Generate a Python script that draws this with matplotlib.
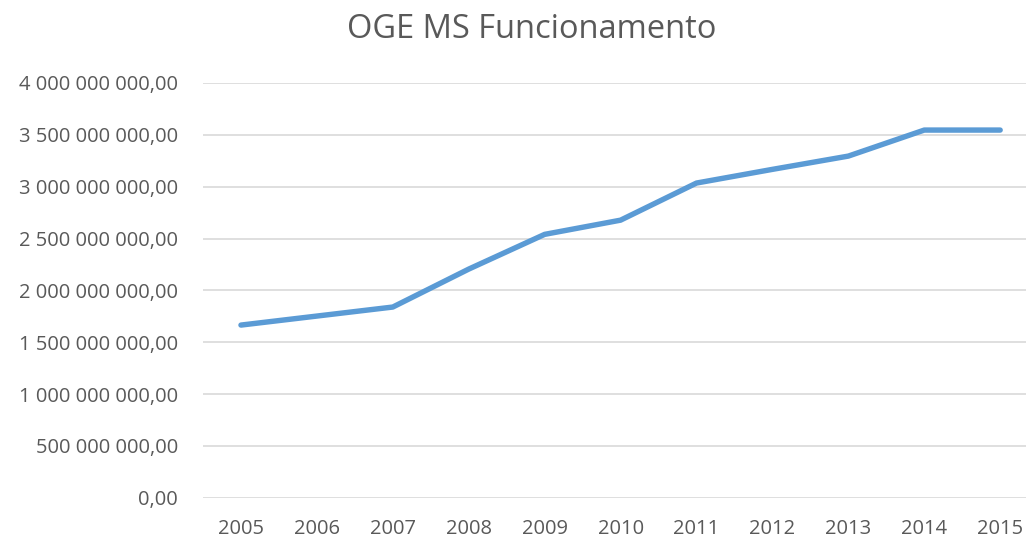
import matplotlib.pyplot as plt
from matplotlib.ticker import FuncFormatter

# OGE MS funcionamento por ano
anos = ["2005", "2006", "2007", "2008", "2009", "2010",
        "2011", "2012", "2013", "2014", "2015"]
valores = [1.665e9, 1.752e9, 1.839e9, 2.205e9, 2.540e9, 2.677e9,
           3.035e9, 3.167e9, 3.295e9, 3.546e9, 3.546e9]

cinza = "#595959"
plt.rcParams["font.family"] = ["Open Sans", "DejaVu Sans"]

fig = plt.figure(figsize=(10.26, 5.39), dpi=100)
ax = fig.add_axes([203 / 1026, 1 - 497.7 / 539, 823 / 1026, (497.7 - 83) / 539])

x = list(range(len(anos)))
ax.plot(x, valores, color="#5B9BD5", linewidth=3.9, solid_capstyle="round",
        solid_joinstyle="round")

def fmt(v, pos):
    s = "{:,.2f}".format(v).replace(",", " ").replace(".", ",")
    return s

ax.set_ylim(0, 4e9)
ax.set_yticks([i * 5e8 for i in range(9)])
ax.yaxis.set_major_formatter(FuncFormatter(fmt))
ax.set_xlim(-0.5, 10.34)
ax.set_xticks(x)
ax.set_xticklabels(anos)

ax.grid(axis="y", color="#d9d9d9", linewidth=1.2)
ax.set_axisbelow(True)
for s in ax.spines.values():
    s.set_visible(False)
ax.tick_params(length=0, labelsize=14.5, colors=cinza)
ax.tick_params(axis="y", pad=18)
ax.tick_params(axis="x", pad=15)

fig.text(532 / 1026, 1 - 30 / 539, "OGE MS Funcionamento", ha="center",
         va="center", fontsize=23.5, color=cinza)

fig.savefig("out.png", dpi=100)
